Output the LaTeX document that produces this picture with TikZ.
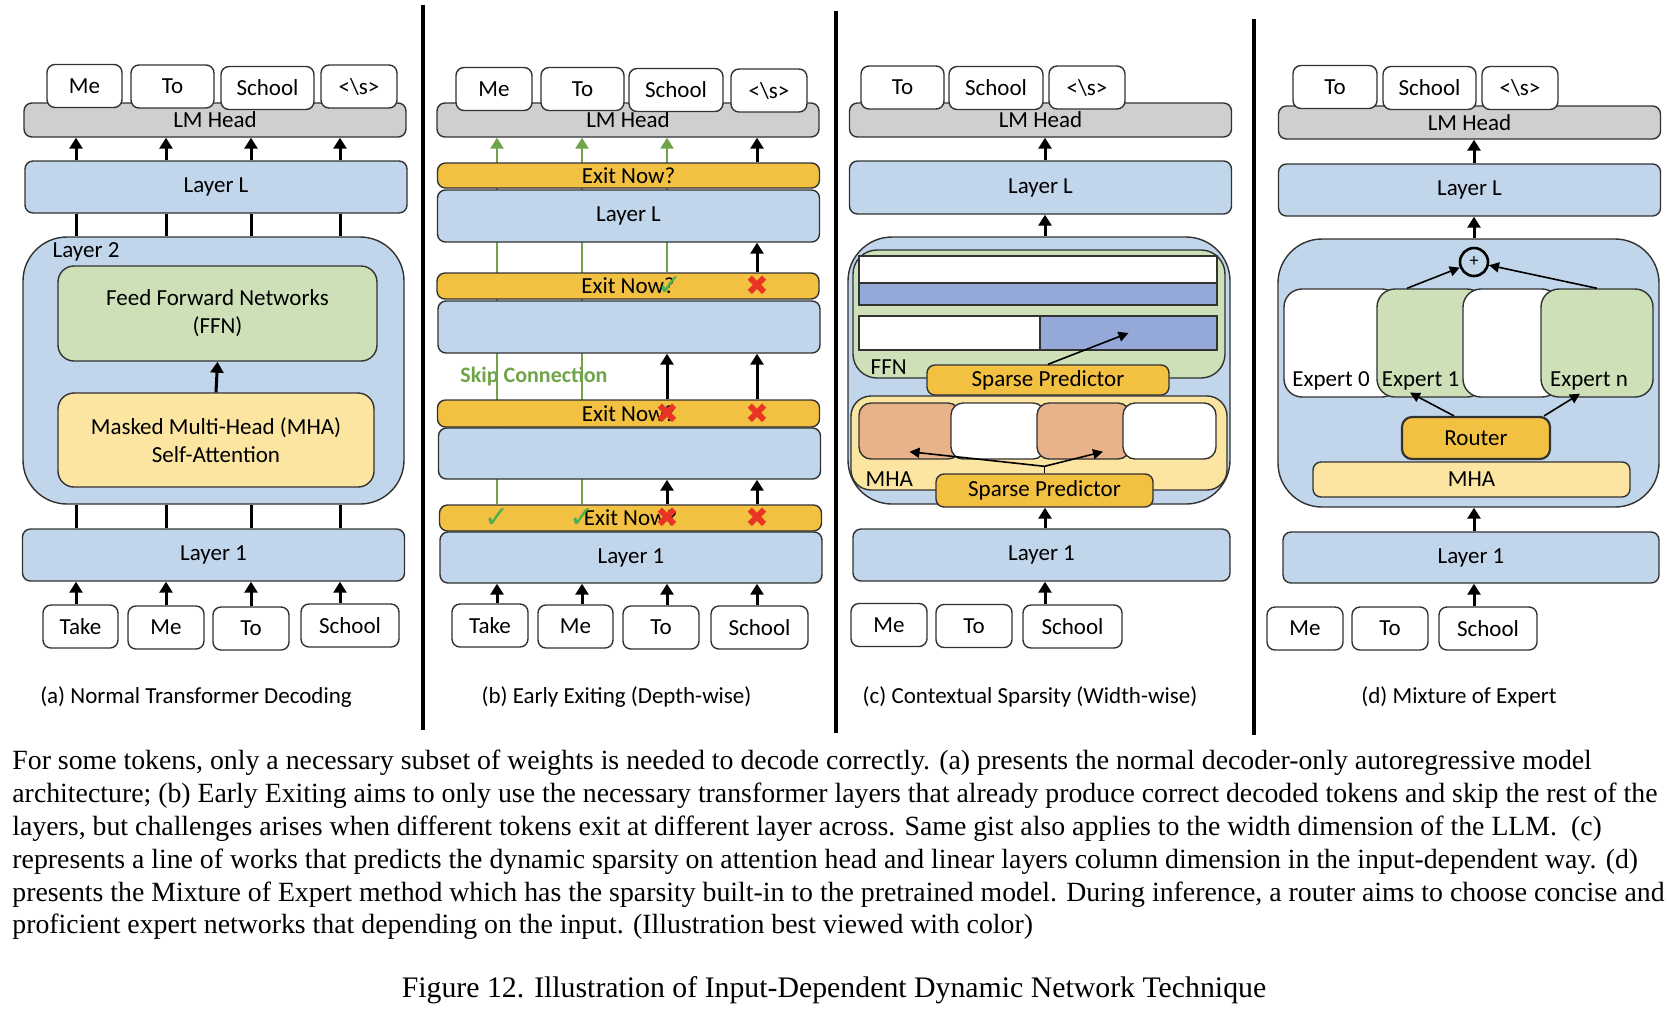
\documentclass[tikz,border=0pt]{standalone}
\usepackage{fontspec}
\setmainfont{Carlito}
\newfontfamily\bodyfont{Liberation Serif}
\newfontfamily\symfont{DejaVu Sans}
\usetikzlibrary{positioning, calc, arrows.meta}

\definecolor{layerblue}{RGB}{193,214,235}
\definecolor{headgray}{RGB}{208,206,206}
\definecolor{ffngreen}{RGB}{205,224,184}
\definecolor{mhayellow}{RGB}{251,229,161}
\definecolor{exitorange}{RGB}{242,193,66}
\definecolor{sparseblue}{RGB}{148,169,216}
\definecolor{headsalmon}{RGB}{232,178,138}
\definecolor{skipgreen}{RGB}{112,164,72}
\definecolor{tickgreen}{RGB}{76,175,80}
\definecolor{crossred}{RGB}{233,51,35}
\definecolor{edge}{RGB}{50,50,50}

\pgfdeclarelayer{background}
\pgfsetlayers{background,main}

\newcommand{\panelsize}{\fontsize{11.5}{14}\selectfont}
\newcommand{\capsize}{\fontsize{11.5}{13}\selectfont}

\tikzset{
    blk/.style={draw=edge, line width=0.7pt, rounded corners=4pt, inner sep=0pt},
    tok/.style={blk, fill=white, minimum height=21.5pt},
    lmhead/.style={blk, fill=headgray, minimum width=191pt, minimum height=17pt},
    layer/.style={blk, fill=layerblue, minimum width=191pt, minimum height=26pt},
    outer/.style={blk, fill=layerblue, minimum width=190.5pt, minimum height=133.5pt, rounded corners=22pt},
    exitbar/.style={blk, fill=exitorange, minimum width=191pt, minimum height=13pt},
    bar/.style={draw=edge, line width=0.9pt, inner sep=0pt},
    flow/.style={-{Triangle[width=6.5pt,length=5.5pt]}, line width=1.5pt},
    link/.style={line width=1.5pt},
    ptr/.style={-{Triangle[width=5pt,length=5pt]}, line width=0.8pt},
    skip/.style={flow, draw=skipgreen, line width=1.3pt},
    tick/.style={text=tickgreen, font=\symfont\fontsize{15}{15}\selectfont, inner sep=0pt},
    cross/.style={text=crossred, font=\symfont\fontsize{14}{14}\selectfont, inner sep=0pt},
    sep/.style={line width=1.8pt},
}

\begin{document}
\begin{tikzpicture}[x=0.5pt, y=-0.5pt, font=\panelsize]
    \useasboundingbox (0,0) rectangle (1670,1014);

    % (a) normal decoding
    \node[lmhead] (lmA) at (215,120) {LM Head};
    \node[tok, minimum width=37.5pt] (oA1) at (84.5,86) {Me};
    \node[tok, minimum width=41.5pt] (oA2) at (172.5,86.5) {To};
    \node[tok, minimum width=46.5pt] (oA3) at (267.5,88) {School};
    \node[tok, minimum width=38pt] (oA4) at (359,86.5) {<\textbackslash s>};
    \node[layer] (lLA) at (216,187) {Layer L};
    \node[outer] (l2A) at (213.5,370.5) {};
    \node[below right=3pt and 15pt of l2A.north west, inner sep=0pt] (l2Alab) {Layer 2};
    \node[blk, fill=ffngreen, minimum width=159.5pt, minimum height=47.5pt, rounded corners=8pt, align=center] (ffnA) at (217.5,313.5) {Feed Forward Networks\\(FFN)};
    \node[blk, fill=mhayellow, minimum width=158pt, minimum height=47pt, rounded corners=8pt, align=center] (mhaA) at (216,440) {Masked Multi-Head (MHA)\\Self-Attention};
    \node[layer] (l1A) at (213.5,555) {Layer 1};
    \node[tok, minimum width=37.5pt] (iA1) at (80.5,626.5) {Take};
    \node[tok, minimum width=38pt] (iA2) at (166,627.5) {Me};
    \node[tok, minimum width=38pt] (iA3) at (251,628.5) {To};
    \node[tok, minimum width=49pt] (iA4) at (350,625.5) {School};
    \node (capA) at (196,697) {\capsize (a) Normal Transformer Decoding};

    \foreach \c/\x in {1/76,2/166,3/251,4/340} {
        \coordinate (cA\c) at (\x,0);
        \draw[flow] (cA\c |- iA\c.north) -- (cA\c |- l1A.south);
        \draw[link] (cA\c |- l1A.north) -- (cA\c |- l2A.south);
        \draw[link] (cA\c |- l2A.north) -- (cA\c |- lLA.south);
        \draw[flow] (cA\c |- lLA.north) -- (cA\c |- lmA.south);
    }
    \draw[flow] (mhaA.north) -- (ffnA.south);

    % (b) early exiting
    \node[lmhead] (lmB) at (628,120) {LM Head};
    \node[tok, minimum width=38pt] (oB1) at (494,89) {Me};
    \node[tok, minimum width=41.5pt] (oB2) at (582.5,89) {To};
    \node[tok, minimum width=47pt] (oB3) at (676,90) {School};
    \node[tok, minimum width=38pt] (oB4) at (769,90.5) {<\textbackslash s>};
    \node[exitbar, minimum height=12.5pt] (exBL) at (628.5,175.5) {Exit Now?};
    \node[layer] (lLB) at (628.5,216) {Layer L};
    \node[exitbar] (exB3) at (628,286) {Exit Now?};
    \node[layer] (lB3) at (629,327) {};
    \node[exitbar, minimum height=13.5pt] (exB2) at (628.5,413.5) {Exit Now?};
    \node[layer, minimum height=25.5pt] (lB2) at (629.5,453.5) {};
    \node[exitbar] (exB1) at (630.5,518) {Exit Now?};
    \node[layer, minimum height=25.5pt] (l1B) at (631,557.5) {Layer 1};
    \node[tok, minimum width=38pt] (iB1) at (490,625.5) {Take};
    \node[tok, minimum width=37.5pt] (iB2) at (575.5,626.5) {Me};
    \node[tok, minimum width=38pt] (iB3) at (661,627.5) {To};
    \node[tok, minimum width=48.5pt] (iB4) at (759.5,627.5) {School};
    \node[text=skipgreen, font=\bfseries\fontsize{11}{12}\selectfont] (skipB) at (534,376) {Skip Connection};
    \node (capB) at (616.5,697) {\capsize (b) Early Exiting (Depth-wise)};

    \foreach \c/\x in {1/497,2/582,3/667,4/757} {
        \coordinate (cB\c) at (\x,0);
        \draw[flow] (cB\c |- iB\c.north) -- (cB\c |- l1B.south);
    }
    \begin{pgfonlayer}{background}
        \draw[skip] (cB1 |- exB1.north) -- (cB1 |- lmB.south);
        \draw[skip] (cB2 |- exB1.north) -- (cB2 |- lmB.south);
        \draw[skip] (cB3 |- exB3.north) -- (cB3 |- lmB.south);
    \end{pgfonlayer}
    \draw[flow] (cB3 |- exB1.north) -- (cB3 |- lB2.south);
    \draw[flow] (cB3 |- exB2.north) -- (cB3 |- lB3.south);
    \draw[flow] (cB4 |- exB1.north) -- (cB4 |- lB2.south);
    \draw[flow] (cB4 |- exB2.north) -- (cB4 |- lB3.south);
    \draw[flow] (cB4 |- exB3.north) -- (cB4 |- lLB.south);
    \draw[flow] (cB4 |- exBL.north) -- (cB4 |- lmB.south);

    \node[tick] (ok11) at (cB1 |- exB1) {✓};
    \node[tick] (ok12) at (cB2 |- exB1) {✓};
    \node[tick] (ok33) at ([xshift=1.5pt]cB3 |- exB3) {✓};
    \node[cross] (no13) at (cB3 |- exB1) {✖};
    \node[cross] (no14) at (cB4 |- exB1) {✖};
    \node[cross] (no23) at (cB3 |- exB2) {✖};
    \node[cross] (no24) at (cB4 |- exB2) {✖};
    \node[cross] (no34) at (cB4 |- exB3) {✖};

    % (c) contextual sparsity
    \node[lmhead] (lmC) at (1040.5,120) {LM Head};
    \node[tok, minimum width=41.5pt] (oC1) at (902.5,87.5) {To};
    \node[tok, minimum width=47pt] (oC2) at (996,88) {School};
    \node[tok, minimum width=38pt] (oC3) at (1087,87.5) {<\textbackslash s>};
    \node[layer, minimum height=26.5pt] (lLC) at (1040.5,187.5) {Layer L};
    \node[outer, minimum width=191pt] (bigC) at (1039,370.5) {};
    \node[blk, fill=ffngreen, minimum width=186pt, minimum height=64pt, rounded corners=12pt] (ffnC) at (1039,314) {};
    \node[bar, fill=white, minimum width=179pt, minimum height=13.5pt] (barC1) at (1038,269.5) {};
    \node[bar, fill=sparseblue, minimum width=179pt, minimum height=11pt] (barC2) at (1038,294) {};
    \node[bar, fill=white, minimum width=90.5pt, minimum height=17pt] (barC3) at (949.5,333) {};
    \node[bar, fill=sparseblue, minimum width=88.5pt, minimum height=17pt] (barC4) at (1128.5,333) {};
    \node[anchor=west, inner sep=0pt, xshift=9pt, yshift=6pt] (ffnClab) at (ffnC.south west) {FFN};
    \node[blk, fill=exitorange, minimum width=121pt, minimum height=15pt] (spC1) at (1048,380) {Sparse Predictor};
    \node[blk, fill=mhayellow, minimum width=188pt, minimum height=47pt, rounded corners=10pt] (mhaC) at (1039,443) {};
    \node[blk, fill=headsalmon, minimum width=50.5pt, minimum height=28pt, rounded corners=6pt] (hC1) at (909.5,431) {};
    \node[blk, fill=white, minimum width=47pt, minimum height=28pt, rounded corners=6pt] (hC2) at (998,431) {};
    \node[blk, fill=headsalmon, minimum width=46.5pt, minimum height=28pt, rounded corners=6pt] (hC3) at (1083.5,431) {};
    \node[blk, fill=white, minimum width=46.5pt, minimum height=28pt, rounded corners=6pt] (hC4) at (1169.5,431) {};
    \node[anchor=west, inner sep=0pt, xshift=7.5pt, yshift=6pt] (mhaClab) at (mhaC.south west) {MHA};
    \node[blk, fill=exitorange, minimum width=108.5pt, minimum height=16.5pt] (spC2) at (1044.5,490.5) {Sparse Predictor};
    \node[layer, minimum width=188.5pt] (l1C) at (1041.5,555) {Layer 1};
    \node[tok, minimum width=38pt] (iC1) at (889,625) {Me};
    \node[tok, minimum width=38pt] (iC2) at (974,626) {To};
    \node[tok, minimum width=49.5pt] (iC3) at (1072.5,626.5) {School};
    \node (capC) at (1030,697) {\capsize (c) Contextual Sparsity (Width-wise)};

    \coordinate (cC) at (1045,0);
    \draw[flow] (cC |- iC3.north) -- (cC |- l1C.south);
    \draw[flow] (cC |- l1C.north) -- (cC |- spC2.south);
    \draw[flow] (cC |- bigC.north) -- (cC |- lLC.south);
    \draw[flow] (cC |- lLC.north) -- (cC |- lmC.south);
    \draw[ptr] (spC1.north) -- (barC4.center);
    \coordinate (fork) at ([yshift=3.5pt]spC2.north);
    \draw[line width=0.8pt] (spC2.north) -- (fork);
    \draw[ptr] (fork) -- ([yshift=4pt]hC1.south);
    \draw[ptr] (fork) -- ([xshift=9.75pt, yshift=4pt]hC3.south);

    % (d) mixture of expert
    \node[lmhead, minimum height=16.5pt] (lmD) at (1469.5,122.5) {LM Head};
    \node[tok, minimum width=42pt] (oD1) at (1335,87) {To};
    \node[tok, minimum width=46.5pt] (oD2) at (1429.5,88) {School};
    \node[tok, minimum width=38pt] (oD3) at (1520,88) {<\textbackslash s>};
    \node[layer] (lLD) at (1469.5,190) {Layer L};
    \node[outer, minimum height=134pt] (bigD) at (1468.5,373) {};
    \node[circle, draw=black, line width=1.3pt, minimum size=14pt, inner sep=0pt, font=\fontsize{9}{9}\selectfont] (plusD) at (1474,262) {+};
    \node[blk, fill=white, minimum width=58pt, minimum height=54pt, rounded corners=9pt] (E0) at (1342,343) {};
    \node[blk, fill=ffngreen, minimum width=54pt, minimum height=54pt, rounded corners=9pt] (E1) at (1431,343) {};
    \node[blk, fill=white, minimum width=48.5pt, minimum height=54pt, rounded corners=9pt] (E2) at (1511.5,343) {};
    \node[blk, fill=ffngreen, minimum width=56pt, minimum height=54pt, rounded corners=9pt] (En) at (1597,343) {};
    \node (E0lab) at (1331,381) {Expert 0};
    \node (E1lab) at (1420.5,381) {Expert 1};
    \node (Enlab) at (1589,381) {Expert n};
    \node[blk, fill=exitorange, line width=1.1pt, rounded corners=5pt, minimum width=74pt, minimum height=21pt] (router) at (1476,438) {Router};
    \node[blk, fill=mhayellow, minimum width=158.5pt, minimum height=17.5pt] (mhaD) at (1471.5,479.5) {MHA};
    \node[layer, minimum width=188pt, minimum height=25.5pt] (l1D) at (1471,557.5) {Layer 1};
    \node[tok, minimum width=38pt] (iD1) at (1305,628.5) {Me};
    \node[tok, minimum width=38pt] (iD2) at (1390,628.5) {To};
    \node[tok, minimum width=49pt] (iD3) at (1488,628.5) {School};
    \node (capD) at (1459,697) {\capsize (d) Mixture of Expert};

    \coordinate (cD) at (1474,0);
    \draw[flow] (cD |- iD3.north) -- (cD |- l1D.south);
    \draw[flow] (cD |- l1D.north) -- (cD |- bigD.south);
    \draw[flow] (cD |- bigD.north) -- (cD |- lLD.south);
    \draw[flow] (cD |- lLD.north) -- (cD |- lmD.south);
    \draw[ptr] ([xshift=-12pt]E1.north) -- (plusD);
    \draw[ptr] (En.north) -- (plusD);
    \draw[ptr] ([xshift=-11pt]router.north) -- ([xshift=-10.5pt, yshift=2.5pt]E1.south);
    \draw[ptr] ([xshift=-3.5pt]router.north east) -- ([xshift=-8.5pt, yshift=2pt]En.south);

    % separators
    \draw[sep] (423,5) -- (423,730);
    \draw[sep] (836,11) -- (836,733);
    \draw[sep] (1254,19) -- (1254,735);

    % caption text
    \node[anchor=north west, inner sep=0pt, align=left, font=\bodyfont\fontsize{13.9}{16.4}\selectfont] (para) at (12,750) {%
        For some tokens, only a necessary subset of weights is needed to decode correctly. (a) presents the normal decoder-only autoregressive model\\
        architecture; (b) Early Exiting aims to only use the necessary transformer layers that already produce correct decoded tokens and skip the rest of the\\
        layers, but challenges arises when different tokens exit at different layer across. Same gist also applies to the width dimension of the LLM.\ \ (c)\\
        represents a line of works that predicts the dynamic sparsity on attention head and linear layers column dimension in the input-dependent way. (d)\\
        presents the Mixture of Expert method which has the sparsity built-in to the pretrained model. During inference, a router aims to choose concise and\\
        proficient expert networks that depending on the input. (Illustration best viewed with color)};
    \node[font=\bodyfont\fontsize{14.9}{16}\selectfont] (figcap) at (834,990) {Figure 12. Illustration of Input-Dependent Dynamic Network Technique};
\end{tikzpicture}
\end{document}
